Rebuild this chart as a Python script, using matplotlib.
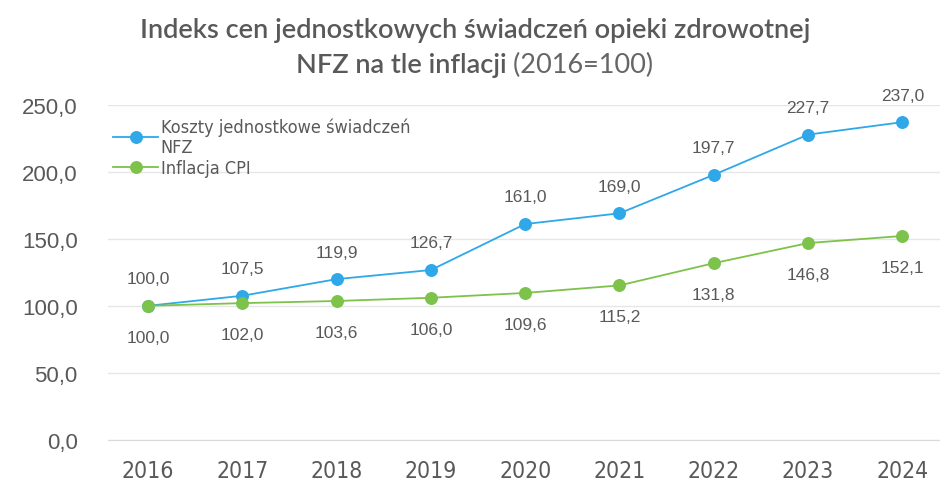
import matplotlib.pyplot as plt
from matplotlib import font_manager

years = ['2016', '2017', '2018', '2019', '2020', '2021', '2022', '2023', '2024']
koszty = [100.0, 107.5, 119.9, 126.7, 161.0, 169.0, 197.7, 227.7, 237.0]
inflacja = [100.0, 102.0, 103.6, 106.0, 109.6, 115.2, 131.8, 146.8, 152.1]
yticks = [0, 50, 100, 150, 200, 250]

blue = '#2EA8E8'
green = '#7DC24B'
gray = '#595959'

# narrow font for year labels and legend, if one is available
names = {f.name for f in font_manager.fontManager.ttflist}
if 'Liberation Sans Narrow' in names:
    narrow = dict(family='Liberation Sans Narrow')
else:
    narrow = dict(family='DejaVu Sans', stretch='condensed')


def fmt(v):
    return f'{v:.1f}'.replace('.', ',')


fig = plt.figure(figsize=(9.4, 4.85), dpi=100)
ax = fig.add_axes([0.115, 0.091, 0.885, 0.691])

x = list(range(len(years)))
ax.plot(x, koszty, color=blue, lw=1.3, marker='o', ms=8.3, label='Koszty jednostkowe świadczeń\nNFZ')
ax.plot(x, inflacja, color=green, lw=1.3, marker='o', ms=8.3, label='Inflacja CPI')

for i, v in enumerate(koszty):
    ax.annotate(fmt(v), (i, v), xytext=(0, 19.5), textcoords='offset points',
                ha='center', va='center', fontsize=12.5, color=gray, family='Liberation Sans')
for i, v in enumerate(inflacja):
    ax.annotate(fmt(v), (i, v), xytext=(0, -22.5), textcoords='offset points',
                ha='center', va='center', fontsize=12.5, color=gray, family='Liberation Sans')

ax.set_ylim(0, 250)
ax.set_xlim(-0.424, 8.40)
ax.set_yticks(yticks)
ax.set_yticklabels([fmt(v) for v in yticks], fontsize=16, color=gray, family='Liberation Sans')
ax.set_xticks(x)
ax.set_xticklabels(years, fontsize=16.5, color=gray, **narrow)
ax.tick_params(length=0, pad=14)
ax.tick_params(axis='y', pad=22)
ax.grid(axis='y', color='#E6E6E6', lw=1)
ax.set_axisbelow(True)
for s in ['top', 'right', 'left']:
    ax.spines[s].set_visible(False)
ax.spines['bottom'].set_color('#D9D9D9')

leg = ax.legend(loc='upper left', bbox_to_anchor=(-0.005, 0.99), frameon=False,
                prop=dict(size=13, **narrow), handlelength=2.5,
                handletextpad=0.15, labelspacing=0.15, borderaxespad=0.1, labelcolor=gray)

fig.text(0.505, 0.938, 'Indeks cen jednostkowych świadczeń opieki zdrowotnej',
         ha='center', va='center', fontsize=19.5, color=gray, family='Lato', fontweight='semibold')
t1 = fig.text(0.0, 0.864, 'NFZ na tle inflacji', ha='left', va='center',
              fontsize=19.5, color=gray, family='Lato', fontweight='semibold')
t2 = fig.text(0.0, 0.864, ' (2016=100)', ha='left', va='center',
              fontsize=19.5, color='#666666', family='Lato', fontweight='normal')
fig.canvas.draw()
r = fig.canvas.get_renderer()
w1 = t1.get_window_extent(r).width / fig.bbox.width
w2 = t2.get_window_extent(r).width / fig.bbox.width
start = 0.505 - (w1 + w2) / 2
t1.set_x(start)
t2.set_x(start + w1)

fig.savefig('out.png', dpi=100)
